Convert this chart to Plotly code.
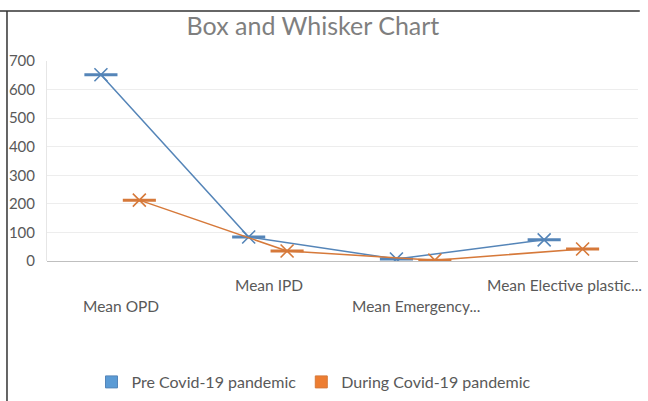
import plotly.graph_objects as go

categories = ["Mean OPD", "Mean IPD", "Mean Emergency...", "Mean Elective plastic..."]
series_names = ["Pre Covid-19 pandemic", "During Covid-19 pandemic"]
pre_covid = [652, 84, 7, 74]
during_covid = [213, 35, 3, 42]
label_rows = [1, 0, 1, 0]  # staggered category labels (0 = upper row, 1 = lower row)

line_colors = ["#5585B8", "#D6793A"]
fill_colors = ["#5B9BD5", "#ED7D31"]
offsets = [-0.135, 0.125]
half_w = 0.112
FONT = "Lato, Open Sans, sans-serif"

fig = go.Figure()
for vals, name, lc, off in zip([pre_covid, during_covid], series_names, line_colors, offsets):
    xs = [i + off for i in range(len(categories))]
    fig.add_trace(go.Scatter(
        x=xs, y=vals, mode="lines+markers", name=name, showlegend=False,
        line=dict(color=lc, width=1.5),
        marker=dict(symbol="x-thin-open", size=13, line=dict(color=lc, width=1.6), color=lc),
        error_x=dict(type="constant", value=half_w, symmetric=True, color=lc, thickness=3, width=0),
        hoverinfo="skip",
    ))

for name, fc, lc in zip(series_names, fill_colors, line_colors):
    fig.add_trace(go.Scatter(
        x=[None], y=[None], mode="markers", name=name,
        marker=dict(symbol="square", size=12, color=fc, line=dict(color=lc, width=1)),
    ))

for i, (cat, row) in enumerate(zip(categories, label_rows)):
    fig.add_annotation(
        x=i, y=0, xref="x", yref="paper", text=cat, showarrow=False,
        yanchor="middle", xanchor="center", yshift=-24 if row == 0 else -45,
        font=dict(family=FONT, size=15.5, color="#595959"),
    )

# chart frame lines (top and left), in pixel-based paper coordinates
fig.add_shape(type="line", xref="paper", yref="paper", x0=-0.08, x1=1.003, y0=1.25, y1=1.25,
              line=dict(color="#333333", width=1.5), layer="above")
fig.add_shape(type="line", xref="paper", yref="paper", x0=-0.0677, x1=-0.0677, y0=1.25, y1=-0.72,
              line=dict(color="#333333", width=1.5), layer="above")

fig.update_layout(
    width=648, height=401,
    margin=dict(l=47, r=10, t=61, b=140, autoexpand=False),
    paper_bgcolor="white", plot_bgcolor="white",
    title=dict(text="Box and Whisker Chart", x=0.483, xref="container", xanchor="center",
               y=1 - 26 / 401, yref="container", yanchor="middle",
               font=dict(family=FONT, size=25, color="#7F7F7F")),
    xaxis=dict(range=[-0.5, 3.5], showticklabels=False, showgrid=False, zeroline=False,
               showline=False, ticks=""),
    yaxis=dict(range=[0, 700], dtick=100, showgrid=True, gridcolor="#EDEDED", gridwidth=1,
               zeroline=True, zerolinecolor="#BFBFBF", zerolinewidth=1,
               showline=True, linecolor="#E6E6E6", linewidth=1, ticks="",
               ticklabelstandoff=8,
               tickfont=dict(family=FONT, size=15, color="#595959")),
    legend=dict(orientation="h", x=314 / 648, y=1 - 382 / 401, xanchor="center", yanchor="middle",
                xref="container", yref="container",
                font=dict(family=FONT, size=16, color="#595959"),
                itemwidth=30, bgcolor="rgba(0,0,0,0)"),
    showlegend=True,
)

fig.write_html("out.html", config={"displayModeBar": False},
               post_script="document.body.style.margin='0px';document.body.style.padding='0px';")
